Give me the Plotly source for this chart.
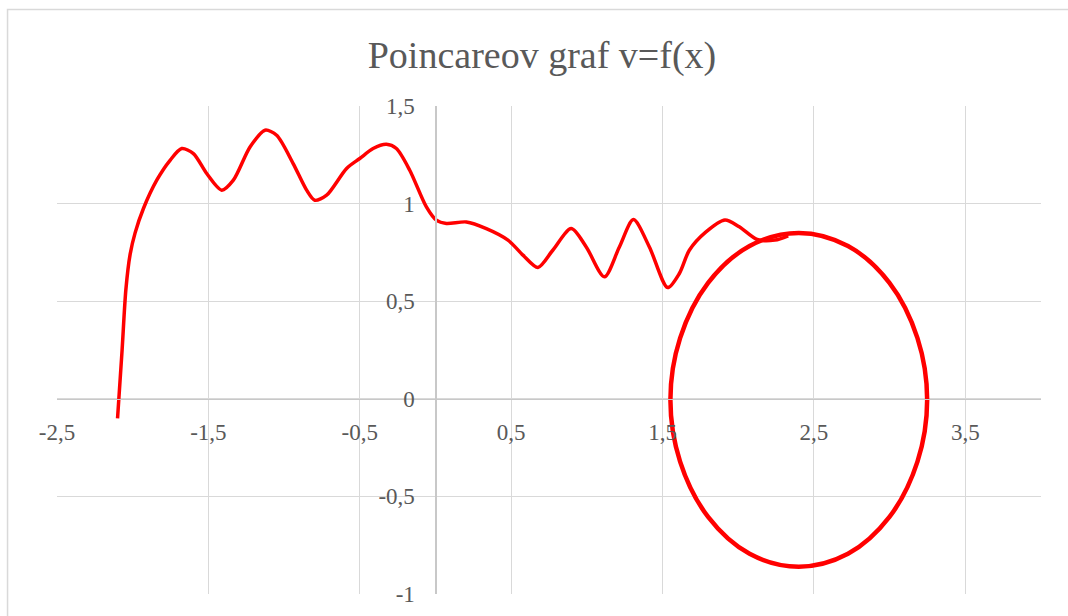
import plotly.graph_objects as go

# ---- data ----
# wavy transient part of the trajectory (x, v)
transient_x = [-2.100, -2.070, -2.045, -2.017, -1.984, -1.929, -1.841, -1.753, -1.676,
               -1.599, -1.511, -1.412, -1.335, -1.225, -1.126, -1.049, -0.940, -0.851,
               -0.797, -0.719, -0.587, -0.500, -0.412, -0.324, -0.258, -0.170, -0.060,
               0.006, 0.072, 0.204, 0.336, 0.479, 0.578, 0.677, 0.775, 0.897, 0.996,
               1.116, 1.215, 1.308, 1.413, 1.534, 1.611, 1.677, 1.787, 1.912, 2.007,
               2.125, 2.242, 2.330]
transient_v = [-0.100, 0.250, 0.560, 0.740, 0.850, 0.975, 1.120, 1.222, 1.282,
               1.256, 1.154, 1.069, 1.120, 1.290, 1.376, 1.350, 1.205, 1.069,
               1.017, 1.043, 1.180, 1.231, 1.282, 1.304, 1.282, 1.171, 0.983,
               0.915, 0.898, 0.906, 0.872, 0.813, 0.736, 0.673, 0.761, 0.872, 0.778,
               0.625, 0.778, 0.918, 0.778, 0.570, 0.642, 0.761, 0.855, 0.916, 0.881,
               0.816, 0.813, 0.835]

# steady-state loop (limit cycle) read around the ellipse
cycle_x = [2.400, 2.725, 2.999, 3.184, 3.248, 3.184, 2.999, 2.725, 2.400,
           2.075, 1.801, 1.616, 1.552, 1.616, 1.801, 2.075, 2.400]
cycle_v = [0.850, 0.783, 0.594, 0.311, -0.005, -0.322, -0.605, -0.794, -0.860,
           -0.794, -0.605, -0.322, -0.005, 0.311, 0.594, 0.783, 0.850]

x_tickvals = [-2.5, -1.5, -0.5, 0.5, 1.5, 2.5, 3.5]
x_ticktext = ["-2,5", "-1,5", "-0,5", "0,5", "1,5", "2,5", "3,5"]
y_tickvals = [-1, -0.5, 0, 0.5, 1, 1.5]
y_ticktext = ["-1", "-0,5", "0", "0,5", "1", "1,5"]

title_text = "Poincareov graf v=f(x)"

RED = "#FF0000"
GRID = "#D9D9D9"
TXT = "#595959"
FONT = "Liberation Serif"

fig = go.Figure()
fig.add_trace(go.Scatter(x=transient_x, y=transient_v, mode="lines",
                         line=dict(color=RED, width=3.5, shape="spline", smoothing=0.8),
                         hoverinfo="skip"))
fig.add_trace(go.Scatter(x=cycle_x, y=cycle_v, mode="lines",
                         line=dict(color=RED, width=4.5, shape="spline", smoothing=1.0),
                         hoverinfo="skip"))

fig.update_layout(
    width=1068, height=616,
    margin=dict(l=57, r=27, t=106, b=22, pad=0, autoexpand=False),
    paper_bgcolor="white", plot_bgcolor="white",
    showlegend=False,
    title=dict(text=title_text, x=542 / 1068, xref="container", xanchor="center",
               y=1 - 55 / 616, yref="container", yanchor="middle",
               font=dict(family=FONT, size=38, color=TXT)),
    font=dict(family=FONT, color=TXT),
    xaxis=dict(range=[-2.5, 4.0], tickvals=x_tickvals, ticktext=x_ticktext,
               showgrid=True, gridcolor=GRID, gridwidth=1, zeroline=False,
               showline=True, linecolor="#C8C8C8", linewidth=1.5,
               anchor="free", position=0.4, automargin=False,
               ticks="outside", ticklen=12, tickcolor="rgba(0,0,0,0)",
               tickfont=dict(family=FONT, size=23, color=TXT)),
    yaxis=dict(range=[-1, 1.5], tickvals=y_tickvals, ticktext=y_ticktext,
               showgrid=True, gridcolor=GRID, gridwidth=1, zeroline=False,
               showline=True, linecolor="#C8C8C8", linewidth=1.5,
               anchor="free", position=2.5 / 6.5, automargin=False,
               ticks="outside", ticklen=16, tickcolor="rgba(0,0,0,0)",
               tickfont=dict(family=FONT, size=23, color=TXT)),
    shapes=[dict(type="rect", xref="paper", yref="paper",
                 x0=(7.5 - 57) / 985, x1=(1080 - 57) / 985,
                 y0=(594 - 640) / 488, y1=(594 - 9.5) / 488,
                 line=dict(color=GRID, width=1.5), fillcolor="rgba(0,0,0,0)",
                 layer="below")],
)

fig.write_html("out.html", config={"displayModeBar": False, "staticPlot": True},
               post_script="document.body.style.margin='0';")
